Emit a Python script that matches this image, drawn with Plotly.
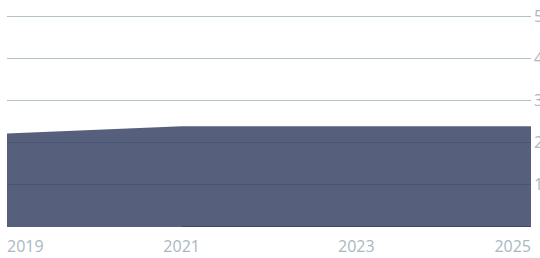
import plotly.graph_objects as go

# Data
hist_years = [2019, 2021]
hist_values = [2.22, 2.39]
fcst_years = [2021, 2022, 2023, 2024, 2025]
fcst_values = [2.39, 2.39, 2.39, 2.39, 2.39]
base_values = [0, 0, 0, 0, 0]
y_ticks = [1, 2, 3, 4, 5]

FILL = "rgba(49,61,95,0.82)"
GRID = "#b2c0c8"
LABEL = "#a9b8c1"
FONT = "Open Sans"

all_years = hist_years + fcst_years[1:]
all_values = hist_values + fcst_values[1:]

fig = go.Figure()
fig.add_trace(go.Scatter(x=all_years, y=all_values, fill="tozeroy", fillcolor=FILL,
                         mode="lines", line=dict(width=0, color=FILL), hoverinfo="skip"))
fig.add_trace(go.Scatter(x=fcst_years, y=base_values, mode="lines",
                         line=dict(width=2, color="#3e4863"), hoverinfo="skip"))
# invisible helpers for edge-label axes
fig.add_trace(go.Scatter(x=[2019, 2025], y=[0, 0], xaxis="x2", mode="none", hoverinfo="skip"))
fig.add_trace(go.Scatter(x=[2019, 2025], y=[0, 0], xaxis="x3", mode="none", hoverinfo="skip"))

xcommon = dict(range=[2019, 2025], showgrid=False, zeroline=False, showline=False,
               ticks="", tickfont=dict(family=FONT, size=16, color=LABEL),
               automargin=False, fixedrange=True, ticklabelstandoff=8)

fig.update_layout(
    width=540, height=258,
    margin=dict(l=7, r=9, t=12, b=31),
    paper_bgcolor="white", plot_bgcolor="white",
    showlegend=False,
    xaxis=dict(tickvals=[2021, 2023], ticktext=["2021", "2023"], **xcommon),
    xaxis2=dict(overlaying="x", anchor="y", side="bottom", tickvals=[2019], ticktext=["2019"],
                ticklabelposition="outside right", **xcommon),
    xaxis3=dict(overlaying="x", anchor="y", side="bottom", tickvals=[2025], ticktext=["2025"],
                ticklabelposition="outside left", **xcommon),
    yaxis=dict(range=[0, 5.1], side="right", tickvals=y_ticks, ticktext=[str(v) for v in y_ticks],
               showgrid=True, gridcolor=GRID, gridwidth=1.2, zeroline=False, showline=False,
               ticks="", tickfont=dict(family=FONT, size=16, color=LABEL),
               automargin=False, ticklabelstandoff=2, fixedrange=True),
)

fig.write_html("out.html", config={"displayModeBar": False},
               post_script="document.body.style.margin='0';")
